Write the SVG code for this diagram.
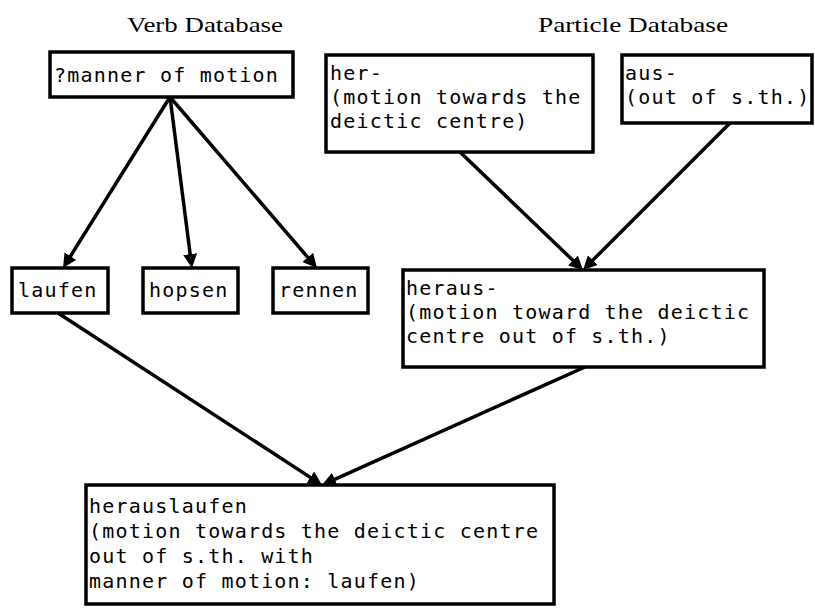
<svg xmlns="http://www.w3.org/2000/svg" width="815" height="608" viewBox="0 0 815 608">
  <style>
    .box { fill: #fff; stroke: #000; stroke-width: 3.5; }
    .lbl { font-family: "DejaVu Sans Mono", "Liberation Mono", monospace; font-size: 20px; letter-spacing: 1.2px; fill: #000; }
    .title { font-family: "Liberation Serif", "Times New Roman", serif; font-size: 22px; fill: #000; }
    .edge { stroke: #000; stroke-width: 3.5; fill: none; marker-end: url(#head); }
  </style>
  <defs>
    <marker id="head" viewBox="0 0 14 14" markerWidth="14" markerHeight="14" refX="5" refY="7" orient="auto" markerUnits="userSpaceOnUse">
      <path d="M0,0 L14,7 L0,14 z" fill="#000"/>
    </marker>
  </defs>
  <rect width="815" height="608" fill="#fff"/>

  <text class="title" x="127" y="32" textLength="156" lengthAdjust="spacingAndGlyphs">Verb Database</text>
  <text class="title" x="538" y="32" textLength="190" lengthAdjust="spacingAndGlyphs">Particle Database</text>

  <g id="connectors">
    <line class="edge" x1="170" y1="97" x2="67.8" y2="260.4"/>
    <line class="edge" x1="170" y1="97" x2="190.8" y2="259.1"/>
    <line class="edge" x1="170" y1="97" x2="311.1" y2="261.2"/>
    <line class="edge" x1="460" y1="152" x2="576.5" y2="263.8"/>
    <line class="edge" x1="730" y1="123" x2="589.4" y2="263.6"/>
    <line class="edge" x1="58" y1="313" x2="314.5" y2="480.1"/>
    <line class="edge" x1="585" y1="367" x2="330.2" y2="481.3"/>
  </g>

  <g id="manner">
    <rect class="box" x="50" y="52" width="243" height="45"/>
    <text class="lbl" x="54" y="82">?manner of motion</text>
  </g>

  <g id="her">
    <rect class="box" x="326" y="55" width="267" height="97"/>
    <text class="lbl" x="330" y="80">her-</text>
    <text class="lbl" x="330" y="104">(motion towards the</text>
    <text class="lbl" x="330" y="128">deictic centre)</text>
  </g>

  <g id="aus">
    <rect class="box" x="622" y="55" width="190" height="68"/>
    <text class="lbl" x="625" y="80">aus-</text>
    <text class="lbl" x="625" y="104">(out of s.th.)</text>
  </g>

  <g id="laufen">
    <rect class="box" x="12" y="268" width="96" height="45"/>
    <text class="lbl" x="18" y="297">laufen</text>
  </g>

  <g id="hopsen">
    <rect class="box" x="143" y="268" width="95" height="45"/>
    <text class="lbl" x="149" y="297">hopsen</text>
  </g>

  <g id="rennen">
    <rect class="box" x="273" y="268" width="95" height="45"/>
    <text class="lbl" x="279" y="297">rennen</text>
  </g>

  <g id="heraus">
    <rect class="box" x="403" y="270" width="361" height="97"/>
    <text class="lbl" x="406" y="295">heraus-</text>
    <text class="lbl" x="406" y="319">(motion toward the deictic</text>
    <text class="lbl" x="406" y="343">centre out of s.th.)</text>
  </g>

  <g id="herauslaufen">
    <rect class="box" x="86" y="485" width="468" height="119"/>
    <text class="lbl" x="89" y="513">herauslaufen</text>
    <text class="lbl" x="89" y="538">(motion towards the deictic centre</text>
    <text class="lbl" x="89" y="563">out of s.th. with</text>
    <text class="lbl" x="89" y="588">manner of motion: laufen)</text>
  </g>
</svg>
